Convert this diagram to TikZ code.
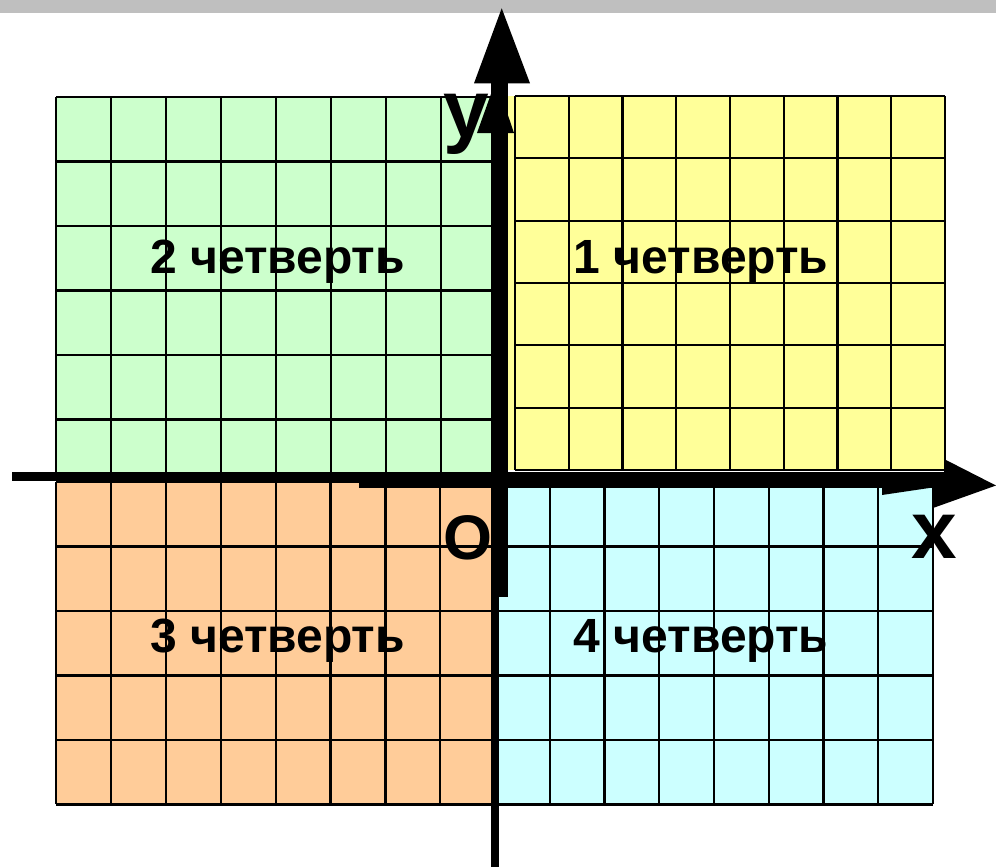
\documentclass[tikz,border=0pt]{standalone}
\usepackage{fontspec}
\setmainfont{Liberation Sans}
\definecolor{qgreen}{HTML}{CCFFCC}
\definecolor{qyellow}{HTML}{FFFF99}
\definecolor{qorange}{HTML}{FFCC99}
\definecolor{qcyan}{HTML}{CCFFFF}
\definecolor{topbar}{HTML}{BFBFBF}
\tikzset{
  gridline/.style={draw=black, line width=2.2pt},
  axisfill/.style={fill=black},
  quadlabel/.style={inner sep=0pt, anchor=base, font=\fontsize{48}{56}\selectfont\bfseries},
  axislabel/.style={inner sep=0pt, anchor=base, font=\fontsize{82}{90}\selectfont\bfseries},
}
\begin{document}
\begin{tikzpicture}[x=1pt, y=-1pt]
\useasboundingbox (0,0) rectangle (996,867);
\fill[white] (0,0) rectangle (996,867);
% top bar
\fill[topbar] (0,0) rectangle (996,13);

% quadrant 2 (green)
\fill[qgreen] (56,97) rectangle (495,476);
\foreach \i in {0,...,7} \draw[gridline] (56+55*\i,97) -- (56+55*\i,476);
\foreach \j in {0,...,5} \draw[gridline] (56,97+64.5*\j) -- (495,97+64.5*\j);

% quadrant 1 (yellow)
\fill[qyellow] (495,96) rectangle (945,470);
\foreach \i in {0,...,8} \draw[gridline] (515+53.75*\i,96) -- (515+53.75*\i,470);
\foreach \j in {0,...,6} \draw[gridline] (515,96+62.33*\j) -- (945,96+62.33*\j);

% quadrant 3 (orange)
\fill[qorange] (56,482) rectangle (495,804);
\foreach \i in {0,...,7} \draw[gridline] (56+54.9*\i,482) -- (56+54.9*\i,804);
\foreach \j in {0,...,5} \draw[gridline] (56,482+64.5*\j) -- (495,482+64.5*\j);

% quadrant 4 (cyan)
\fill[qcyan] (495,482) rectangle (933,804);
\foreach \i in {1,...,8} \draw[gridline] (495+54.75*\i,482) -- (495+54.75*\i,804);
\foreach \j in {0,...,5} \draw[gridline] (495,482+64.5*\j) -- (933,482+64.5*\j);

% x axis
\fill[axisfill] (12,472) rectangle (359,481);
\fill[axisfill] (359,472) rectangle (944,488);
\fill[axisfill] (944,459) -- (996,485.5) -- (933,508) -- (933,488) -- (944,488) -- cycle;
\fill[axisfill] (882,487) -- (882,495) -- (936,487) -- cycle;

% y axis
\fill[axisfill] (491,83) rectangle (508,597);
\fill[axisfill] (491,596) rectangle (499,867);
\fill[axisfill] (474,83.3) -- (501.7,8.3) -- (530,83.3) -- cycle;
\fill[axisfill] (477,133) -- (496,80) -- (514,133) -- cycle;

% labels
\node[quadlabel] (q2) at (277.5,273) {2 четверть};
\node[quadlabel] (q1) at (701,273) {1 четверть};
\node[quadlabel] (q3) at (277.5,652) {3 четверть};
\node[quadlabel] (q4) at (701,652) {4 четверть};
\node[axislabel] (ly) at (466,137) {y};
\node[axislabel] (lx) at (934,558) {x};
\node[inner sep=0pt, anchor=base, font=\fontsize{63}{70}\selectfont\bfseries] (lo) at (468,559) {O};
\end{tikzpicture}
\end{document}
